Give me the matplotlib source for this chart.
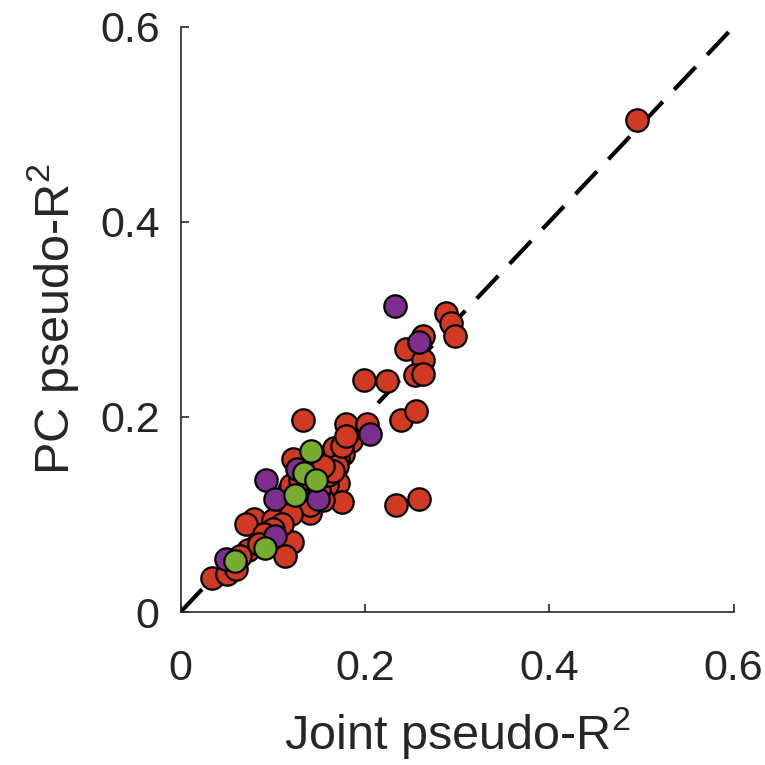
import numpy as np
import matplotlib.pyplot as plt

plt.rcParams['font.family'] = ['Liberation Sans', 'DejaVu Sans']
plt.rcParams['mathtext.fontset'] = 'custom'
plt.rcParams['mathtext.rm'] = 'Liberation Sans'
plt.rcParams['mathtext.it'] = 'Liberation Sans'

# red points (joint, PC)
red_x = [0.495, 0.288, 0.293, 0.298, 0.263, 0.245, 0.263, 0.254, 0.263,
         0.199, 0.224, 0.239, 0.255, 0.234, 0.259, 0.133, 0.179, 0.202,
         0.185, 0.176, 0.171, 0.167, 0.122, 0.171, 0.159, 0.175, 0.155,
         0.140, 0.112, 0.118, 0.080, 0.071, 0.100, 0.121, 0.113, 0.073,
         0.065, 0.034, 0.050, 0.060, 0.130, 0.140, 0.150, 0.160, 0.170,
         0.165, 0.120, 0.110, 0.100, 0.090, 0.085, 0.120, 0.130, 0.145,
         0.155, 0.175, 0.180]
red_y = [0.504, 0.307, 0.296, 0.283, 0.283, 0.270, 0.258, 0.243, 0.244,
         0.238, 0.237, 0.197, 0.206, 0.110, 0.116, 0.197, 0.193, 0.193,
         0.175, 0.162, 0.157, 0.168, 0.157, 0.132, 0.130, 0.113, 0.115,
         0.102, 0.110, 0.125, 0.095, 0.090, 0.094, 0.072, 0.057, 0.064,
         0.057, 0.035, 0.039, 0.044, 0.120, 0.110, 0.125, 0.140, 0.150,
         0.145, 0.100, 0.090, 0.085, 0.080, 0.070, 0.130, 0.135, 0.155,
         0.150, 0.170, 0.180]

purple_x = [0.233, 0.259, 0.206, 0.126, 0.093, 0.102, 0.149, 0.103, 0.049]
purple_y = [0.314, 0.277, 0.183, 0.147, 0.135, 0.116, 0.116, 0.078, 0.054]

green_x = [0.141, 0.134, 0.147, 0.124, 0.092, 0.059]
green_y = [0.165, 0.142, 0.135, 0.120, 0.066, 0.052]

ticks = [0, 0.2, 0.4, 0.6]
tick_labels = ['0', '0.2', '0.4', '0.6']

fig = plt.figure(figsize=(7.65, 7.65), dpi=100)
ax = fig.add_axes([0.236, 0.2, 0.723, 0.765])

ax.plot([0, 0.6], [0, 0.6], color='black', lw=3, ls=(0, (7.5, 4)), zorder=1)

kw = dict(s=260, edgecolors='black', linewidths=1.6, clip_on=False)
ax.scatter(red_x, red_y, c='#D03A22', zorder=2, **kw)
ax.scatter(purple_x, purple_y, c='#7E2F8E', zorder=3, **kw)
ax.scatter(green_x, green_y, c='#77AC30', zorder=4, **kw)

ax.set_xlim(0, 0.6)
ax.set_ylim(0, 0.6)
ax.set_xticks(ticks)
ax.set_xticklabels(tick_labels)
ax.set_yticks(ticks)
ax.set_yticklabels(tick_labels)

for s in ['top', 'right']:
    ax.spines[s].set_visible(False)
for s in ['left', 'bottom']:
    ax.spines[s].set_color('#262626')
    ax.spines[s].set_linewidth(1.2)
ax.tick_params(direction='in', length=6, width=1.2, colors='#262626',
               labelsize=31)
ax.tick_params(axis='x', pad=27)
ax.tick_params(axis='y', pad=15)

ax.set_xlabel('Joint pseudo-R$^2$', fontsize=35, color='#262626', labelpad=11)
ax.set_ylabel('PC pseudo-R$^2$', fontsize=35, color='#262626', labelpad=14)

fig.savefig('out.png', dpi=100)
